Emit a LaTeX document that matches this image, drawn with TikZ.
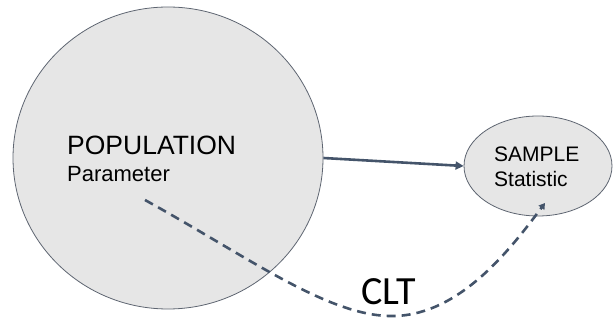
\documentclass[tikz,border=0pt]{standalone}
\usepackage{fontspec}
\setmainfont{Liberation Sans}
\newfontfamily\cltfont{Carlito}
\usepackage{tikz}
\usetikzlibrary{arrows.meta, shapes.geometric}

\definecolor{blobfill}{HTML}{E6E6E6}
\definecolor{blobline}{HTML}{5E6571}
\definecolor{linkcol}{HTML}{44546A}

\begin{document}
\begin{tikzpicture}[x=1pt, y=-1pt,
    blob/.style={ellipse, draw=blobline, fill=blobfill, line width=0.8pt, inner sep=0pt},
    txt/.style={anchor=base west, inner sep=0pt, text=black},
    link/.style={linkcol, line width=2.6pt, -{Triangle[length=8pt, width=8pt]}},
    dlink/.style={linkcol, line width=2.6pt, dash pattern=on 9pt off 6pt, -{Triangle[length=6pt, width=7pt]}}]
    \useasboundingbox (0,0) rectangle (613,328);
    % Population and sample
    \node[blob, minimum width=310pt, minimum height=302pt] (pop) at (168,158) {};
    \node[blob, minimum width=148pt, minimum height=100pt] (samp) at (538,166) {};
    % Texts
    \node[txt, font=\fontsize{26.5}{32}\selectfont] (poptxt) at (67,155) {POPULATION};
    \node[txt, font=\fontsize{22}{26}\selectfont] (partxt) at (67,182) {Parameter};
    \node[txt, font=\fontsize{21}{25}\selectfont] (samptxt) at (494,162) {SAMPLE};
    \node[txt, font=\fontsize{21}{25}\selectfont] (stattxt) at (494,187) {Statistic};
    \node[txt, font=\cltfont\fontsize{40}{48}\selectfont] (clt) at (361,305) {CLT};
    % Sampling arrow
    \draw[link] (pop.east) -- (samp.west);
    % CLT curve
    \coordinate (pstart) at (145,200);
    \coordinate (pbottom) at (395,316);
    \coordinate (send) at (545,203);
    \draw[dlink] (pstart) .. controls (250,258) and (330,318) .. (pbottom)
      .. controls (460,314) and (510,250) .. (send);
\end{tikzpicture}
\end{document}
